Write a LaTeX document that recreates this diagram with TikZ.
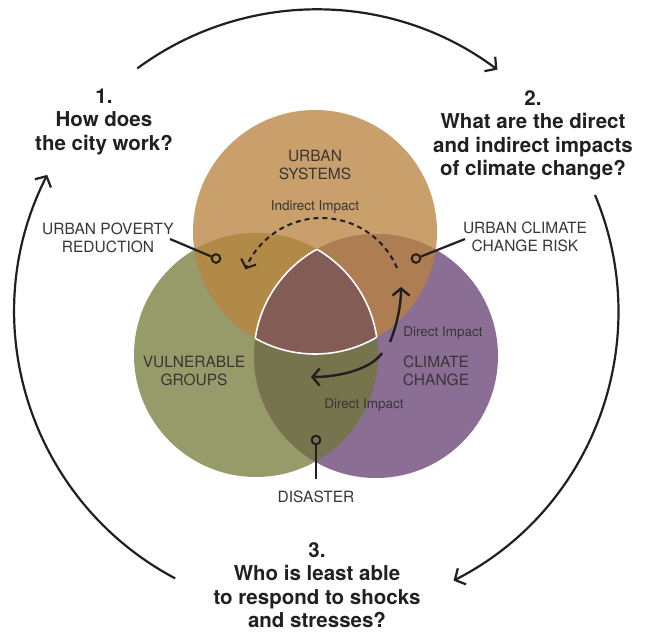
\documentclass[tikz,border=0pt]{standalone}
\usepackage{fontspec}
\setmainfont{TeX Gyre Heros}
\usetikzlibrary{arrows.meta}

\definecolor{sysC}{HTML}{C9A06B}
\definecolor{grpC}{HTML}{979B6A}
\definecolor{cliC}{HTML}{8B6E94}
\definecolor{sysgrpC}{HTML}{B08A46}
\definecolor{sysclimC}{HTML}{AE7E52}
\definecolor{grpclimC}{HTML}{76744C}
\definecolor{coreC}{HTML}{845C56}
\definecolor{inkC}{HTML}{231F20}
\definecolor{labC}{HTML}{3A3536}

\begin{document}
\begin{tikzpicture}[x=1pt,y=-1pt,
  question/.style={font=\bfseries\fontsize{20.5}{23.5}\selectfont, text=inkC,
    align=center, inner sep=0pt, anchor=north},
  setlabel/.style={font=\fontsize{15.5}{18}\selectfont, text=labC,
    align=center, inner sep=0pt, anchor=north},
  impact/.style={font=\fontsize{13.5}{15}\selectfont, text=labC,
    inner sep=0pt, anchor=base},
  pin/.style={circle, draw=inkC, line width=2pt, minimum size=8.6pt, inner sep=0pt},
  leader/.style={draw=inkC, line width=2.2pt},
  cycle/.style={draw=inkC, line width=2.2pt,
    -{Straight Barb[length=8pt,width=18pt,line width=2.2pt]}},
  flow/.style={draw=inkC, line width=2.4pt,
    -{Straight Barb[length=7pt,width=17pt,line width=2.4pt]}},
  indirect/.style={draw=inkC, line width=2pt, dash pattern=on 5pt off 4pt,
    -{Straight Barb[length=7pt,width=16pt,line width=2pt]}},
]
\useasboundingbox (0,0) rectangle (651,634);

% circle centres
\coordinate (cSys) at (315,232);
\coordinate (cGrp) at (256,355);
\coordinate (cCli) at (376,356);

% base discs
\fill[sysC] (cSys) circle[radius=122];
\fill[grpC] (cGrp) circle[radius=122];
\fill[cliC] (cCli) circle[radius=122];

% pairwise overlaps
\begin{scope}
  \clip (cSys) circle[radius=122];
  \fill[sysgrpC] (cGrp) circle[radius=122];
  \fill[sysclimC] (cCli) circle[radius=122];
\end{scope}
\begin{scope}
  \clip (cGrp) circle[radius=122];
  \fill[grpclimC] (cCli) circle[radius=122];
\end{scope}

% triple overlap
\begin{scope}
  \clip (cSys) circle[radius=122];
  \clip (cGrp) circle[radius=122];
  \fill[coreC] (cCli) circle[radius=122];
\end{scope}

% white rim of the triple overlap
\begin{scope}
  \clip (cSys) circle[radius=122];
  \clip (cGrp) circle[radius=122];
  \draw[white, line width=1.6pt] (cCli) circle[radius=122];
\end{scope}
\begin{scope}
  \clip (cSys) circle[radius=122];
  \clip (cCli) circle[radius=122];
  \draw[white, line width=1.6pt] (cGrp) circle[radius=122];
\end{scope}
\begin{scope}
  \clip (cGrp) circle[radius=122];
  \clip (cCli) circle[radius=122];
  \draw[white, line width=1.6pt] (cSys) circle[radius=122];
\end{scope}

% set labels
\node[setlabel] (sysLab) at (315,149.8) {URBAN\\SYSTEMS};
\node[setlabel] (grpLab) at (194,355.8) {VULNERABLE\\GROUPS};
\node[setlabel] (cliLab) at (436,355.8) {CLIMATE\\CHANGE};

% overlap labels with pins
\node[setlabel] (povLab) at (108,222.8) {URBAN POVERTY\\REDUCTION};
\node[setlabel] (riskLab) at (525,221.8) {URBAN CLIMATE\\CHANGE RISK};
\node[setlabel, anchor=base] (disLab) at (316,502) {DISASTER};

\node[pin] (povPin) at (216,258.5) {};
\node[pin] (riskPin) at (416,258.5) {};
\node[pin] (disPin) at (316,440) {};

\coordinate (povTail) at (170,239);
\coordinate (riskTail) at (465,239);
\coordinate (disTail) at (316,479);
\draw[leader] (povTail) -- (povPin);
\draw[leader] (riskTail) -- (riskPin);
\draw[leader] (disTail) -- (disPin);

% impacts
\node[impact] (indLab) at (315,210.7) {Indirect Impact};
\node[impact] (dirLabA) at (443,336) {Direct Impact};
\node[impact] (dirLabB) at (364,408) {Direct Impact};

\coordinate (indStart) at (397,268);
\draw[indirect] (indStart) arc[start angle=-23, end angle=-158, radius=82];

\coordinate (dirUpStart) at (390,342);
\coordinate (dirUpEnd) at (401,287);
\draw[flow] (dirUpStart) .. controls (397,325) and (401,305) .. (dirUpEnd);

\coordinate (dirLeftStart) at (382,353);
\coordinate (dirLeftEnd) at (311,377);
\draw[flow] (dirLeftStart) .. controls (372,368) and (342,377) .. (dirLeftEnd);

% the three guiding questions
\node[question] (qOne) at (104,88.5) {1.\\How does\\the city work?};
\node[question] (qTwo) at (533,90) {2.\\What are the direct\\and indirect impacts\\of climate change?};
\node[question] (qThree) at (317,542) {3.\\Who is least able\\to respond to shocks\\and stresses?};

% outer cycle
\coordinate (cycTop) at (137.3,68.4);
\coordinate (cycRight) at (595.0,195.0);
\coordinate (cycLeft) at (175.2,578.4);
\draw[cycle] (cycTop) arc[start angle=-126.4, end angle=-53.2, radius=302];
\draw[cycle] (cycRight) arc[start angle=-22.7, end angle=63, radius=302];
\draw[cycle] (cycLeft) arc[start angle=117.9, end angle=206.9, radius=302];
\end{tikzpicture}
\end{document}
